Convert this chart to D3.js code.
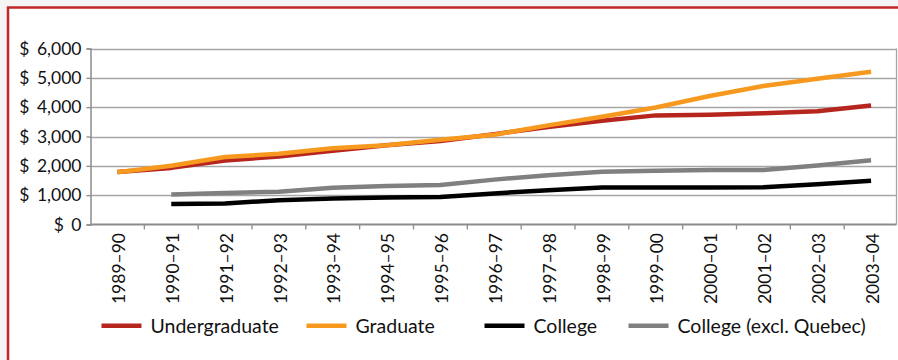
<!DOCTYPE html>
<html><head><meta charset="utf-8">
<script src="https://cdn.jsdelivr.net/npm/d3@7"></script>
<style>
html,body{margin:0;padding:0;background:#f5f5f5;}
svg{display:block;}
text{font-family:Lato,"Noto Sans",sans-serif;fill:#111;}
</style></head>
<body>
<script>
const categories = ["1989–90","1990–91","1991–92","1992–93","1993–94","1994–95","1995–96","1996–97","1997–98","1998–99","1999–00","2000–01","2001–02","2002–03","2003–04"];
const undergraduate = [1790,1930,2180,2320,2510,2700,2850,3080,3320,3540,3720,3740,3790,3860,4060];
const graduate = [1780,2000,2300,2410,2600,2700,2890,3060,3380,3670,3990,4380,4720,4970,5210];
const college = [null,700,720,830,890,920,940,1060,1170,1260,1260,1260,1270,1370,1490];
const collegeExQc = [null,1020,1070,1120,1250,1310,1350,1530,1680,1800,1830,1860,1860,2010,2190];
const yTicks = [0,1000,2000,3000,4000,5000,6000];
const seriesNames = ["Undergraduate","Graduate","College","College (excl. Quebec)"];
const seriesColors = ["#b7261e","#f7991f","#000000","#808080"];
const seriesData = [undergraduate, graduate, college, collegeExQc];

const W = 898, H = 360;
const svg = d3.select("body").append("svg").attr("width", W).attr("height", H);

// frame
svg.append("rect").attr("x", 8).attr("y", 7.5).attr("width", W + 20).attr("height", H + 20)
  .attr("fill", "#ffffff").attr("stroke", "#c0282a").attr("stroke-width", 2.5);

const x = d3.scaleBand().domain(categories).range([90.5, 898]).padding(0);
const y = d3.scaleLinear().domain([0, 6000]).range([224.5, 48.5]);

// gridlines
svg.append("g").selectAll("line").data(yTicks.filter(d => d > 0)).join("line")
  .attr("x1", 90.5).attr("x2", 896.5).attr("y1", d => Math.round(y(d)) + 0.5).attr("y2", d => Math.round(y(d)) + 0.5)
  .attr("stroke", "#a6a6a6").attr("stroke-width", 1.3);
// right border
svg.append("line").attr("x1", 896.5).attr("x2", 896.5).attr("y1", y(6000)).attr("y2", y(0))
  .attr("stroke", "#a6a6a6").attr("stroke-width", 1.3);

// y axis
const yAxis = d3.axisLeft(y).tickValues(yTicks).tickSize(4).tickPadding(5)
  .tickFormat(d => "$ " + d3.format(",")(d));
const gy = svg.append("g").attr("transform", "translate(90.5,0)").call(yAxis);
gy.attr("font-size", null).attr("font-family", null);
gy.select(".domain").attr("stroke", "#8c8c8c").attr("stroke-width", 1.5);
gy.selectAll(".tick line").attr("stroke", "#8c8c8c").attr("stroke-width", 1.3);
gy.selectAll(".tick text").style("font-size", "17.5px").style("font-family", "Lato")
  .style("word-spacing", "3px").style("fill", "#111");

// x axis
const gx = svg.append("g").attr("transform", `translate(0,${y(0)})`);
gx.append("line").attr("x1", 90.5).attr("x2", 896.5).attr("stroke", "#8c8c8c").attr("stroke-width", 1.8);
gx.selectAll("line.tk").data(categories.slice(1)).join("line").attr("class", "tk")
  .attr("x1", d => x(d)).attr("x2", d => x(d)).attr("y1", 0).attr("y2", 5)
  .attr("stroke", "#8c8c8c").attr("stroke-width", 1.3);
gx.selectAll("text").data(categories).join("text")
  .attr("transform", d => `translate(${x(d) + x.bandwidth() / 2 + 1.6},8.5) rotate(-90)`)
  .attr("text-anchor", "end").attr("dy", "0.35em").style("font-size", "17.5px").text(d => d);

// lines
const line = d3.line().defined(d => d.v != null)
  .x(d => x(d.c) + x.bandwidth() / 2).y(d => y(d.v));
seriesData.forEach((arr, i) => {
  svg.append("path").datum(arr.map((v, j) => ({ c: categories[j], v })))
    .attr("d", line).attr("fill", "none").attr("stroke", seriesColors[i])
    .attr("stroke-width", 4.5).attr("stroke-linejoin", "round");
});

// legend
const legendX = [101.5, 306.5, 484.5, 628.5];
const lg = svg.append("g");
seriesNames.forEach((n, i) => {
  lg.append("rect").attr("x", legendX[i]).attr("y", 323.5).attr("width", 40).attr("height", 4.5).attr("fill", seriesColors[i]);
  lg.append("text").attr("x", legendX[i] + 49).attr("y", 326).attr("dy", "0.36em").style("font-size", "19.5px").text(n);
});
</script>
</body></html>
